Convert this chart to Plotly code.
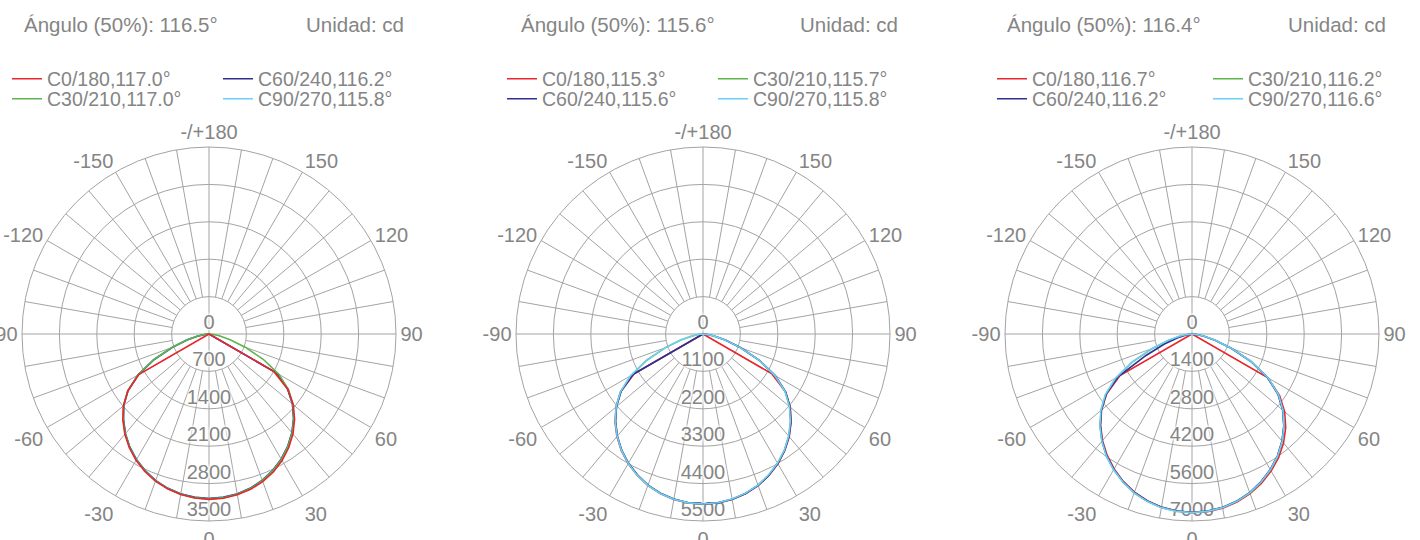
import plotly.graph_objects as go

# ---------------- data ----------------
ANGLES = [-90, -85, -80, -75, -70, -65, -60, -55, -50, -45, -40, -35, -30, -25, -20, -15, -10, -5,
          0, 5, 10, 15, 20, 25, 30, 35, 40, 45, 50, 55, 60, 65, 70, 75, 80, 85, 90]

SERIES_NAMES = ["C0/180", "C30/210", "C60/240", "C90/270"]
SERIES_COLORS = ["#e8262b", "#5db54b", "#2e3192", "#6ccff6"]

# chart 1
C1_TITLE = "Ángulo (50%): 116.5°"
C1_BEAM = ["117.0°", "117.0°", "116.2°", "115.8°"]
C1_TICKS = [0, 700, 1400, 2100, 2800, 3500]
C1_RED = [0, 0, 0, 0, 0, 0, 1520, 1850, 2090, 2280, 2450, 2600, 2730, 2840, 2930, 3000, 3050, 3080,
          3095, 3085, 3055, 3010, 2940, 2850, 2735, 2600, 2445, 2265, 2060, 1800, 1400, 0, 0, 0, 0, 0, 0]
C1_GREEN = [0, 65, 210, 430, 740, 1150, 1540, 1860, 2090, 2270, 2440, 2590, 2720, 2830, 2925, 2995, 3045, 3075,
            3085, 3075, 3045, 2995, 2920, 2825, 2710, 2575, 2420, 2245, 2050, 1820, 1510, 1120, 720, 410, 195, 60, 0]
C1_BLUE = [0, 60, 205, 420, 730, 1140, 1530, 1855, 2085, 2265, 2435, 2585, 2715, 2825, 2920, 2990, 3040, 3070,
           3080, 3070, 3040, 2990, 2915, 2820, 2705, 2570, 2415, 2240, 2040, 1800, 1470, 0, 0, 0, 0, 0, 0]
C1_CYAN = [0, 55, 200, 415, 725, 1130, 1520, 1845, 2080, 2260, 2430, 2580, 2710, 2820, 2915, 2985, 3035, 3065,
           3075, 3065, 3035, 2985, 2910, 2815, 2700, 2565, 2410, 2235, 2035, 1790, 1450, 0, 0, 0, 0, 0, 0]

# chart 2
C2_TITLE = "Ángulo (50%): 115.6°"
C2_BEAM = ["115.3°", "115.7°", "115.6°", "115.8°"]
C2_TICKS = [0, 1100, 2200, 3300, 4400, 5500]
C2_RED = [0, 0, 0, 0, 0, 0, 2330, 2960, 3340, 3660, 3940, 4190, 4400, 4580, 4740, 4860, 4940, 4990,
          5005, 4990, 4940, 4860, 4745, 4590, 4405, 4190, 3945, 3665, 3350, 2960, 2330, 0, 0, 0, 0, 0, 0]
C2_GREEN = [0, 100, 325, 675, 1175, 1825, 2450, 2950, 3325, 3640, 3925, 4175, 4390, 4575, 4735, 4850, 4935, 4985,
            5000, 4985, 4935, 4850, 4735, 4575, 4390, 4175, 3925, 3640, 3325, 2950, 2450, 1825, 1175, 675, 325, 100, 0]
C2_BLUE = [0, 0, 0, 0, 0, 0, 2380, 2940, 3320, 3635, 3920, 4170, 4385, 4570, 4730, 4845, 4930, 4980,
           4995, 4985, 4935, 4855, 4740, 4585, 4400, 4185, 3935, 3655, 3345, 2965, 2460, 1830, 1180, 680, 330, 100, 0]
C2_CYAN = [0, 105, 330, 685, 1190, 1845, 2470, 2965, 3335, 3650, 3930, 4180, 4395, 4580, 4740, 4855, 4935, 4985,
           5000, 4980, 4930, 4845, 4730, 4570, 4385, 4170, 3920, 3635, 3320, 2945, 2445, 1820, 1170, 670, 320, 95, 0]

# chart 3
C3_TITLE = "Ángulo (50%): 116.4°"
C3_BEAM = ["116.7°", "116.2°", "116.2°", "116.6°"]
C3_TICKS = [0, 1400, 2800, 4200, 5600, 7000]
C3_RED = [0, 0, 0, 0, 0, 0, 3120, 3900, 4420, 4840, 5210, 5540, 5830, 6090, 6300, 6460, 6580, 6650,
          6690, 6680, 6620, 6510, 6360, 6160, 5920, 5650, 5330, 4960, 4530, 4000, 3270, 0, 0, 0, 0, 0, 0]
C3_GREEN = [0, 135, 435, 900, 1570, 2440, 3275, 3940, 4440, 4865, 5245, 5580, 5865, 6110, 6325, 6480, 6595, 6660,
            6680, 6660, 6595, 6480, 6325, 6110, 5865, 5580, 5245, 4865, 4440, 3940, 3275, 2440, 1570, 900, 435, 135, 0]
C3_BLUE = [0, 60, 220, 550, 1100, 1900, 3200, 3920, 4430, 4855, 5235, 5570, 5855, 6100, 6315, 6470, 6585, 6650,
           6670, 6655, 6590, 6475, 6320, 6105, 5860, 5575, 5240, 4860, 4430, 3930, 3265, 2435, 1565, 895, 430, 130, 0]
C3_CYAN = [0, 140, 445, 915, 1590, 2470, 3300, 3960, 4455, 4875, 5250, 5585, 5870, 6115, 6330, 6485, 6600, 6665,
           6685, 6665, 6600, 6485, 6330, 6115, 5870, 5585, 5250, 4870, 4445, 3950, 3290, 2455, 1580, 905, 440, 138, 0]

UNIT_TEXT = "Unidad: cd"
ANG_TICKVALS = [0, 30, 60, 90, 120, 150, 180, 210, 240, 270, 300, 330]
ANG_TICKTEXT = ["0", "30", "60", "90", "120", "150", "-/+180", "-150", "-120", "-90", "-60", "-30"]
SPOKE_STEP = 10

# ---------------- style / layout ----------------
W, H = 1420, 540
FONT = "Helvetica Neue, Liberation Sans, Arial, sans-serif"
TXT = "#858585"
GRID = "#a3a3a3"

charts = [
    dict(title=C1_TITLE, beams=C1_BEAM, ticks=C1_TICKS,
         data=[C1_RED, C1_GREEN, C1_BLUE, C1_CYAN], draw_order=[3, 2, 1, 0],
         legend_pos={0: (0, 0), 2: (1, 0), 1: (0, 1), 3: (1, 1)},
         cx=209, title_x=22, unit_x=406, col_text_x=[47, 258]),
    dict(title=C2_TITLE, beams=C2_BEAM, ticks=C2_TICKS,
         data=[C2_RED, C2_GREEN, C2_BLUE, C2_CYAN], draw_order=[0, 1, 2, 3],
         legend_pos={0: (0, 0), 1: (1, 0), 2: (0, 1), 3: (1, 1)},
         cx=703, title_x=519, unit_x=900, col_text_x=[542, 753]),
    dict(title=C3_TITLE, beams=C3_BEAM, ticks=C3_TICKS,
         data=[C3_RED, C3_GREEN, C3_BLUE, C3_CYAN], draw_order=[0, 1, 2, 3],
         legend_pos={0: (0, 0), 1: (1, 0), 2: (0, 1), 3: (1, 1)},
         cx=1192, title_x=1005, unit_x=1388, col_text_x=[1032, 1248]),
]

CY = 334
RAD = 187
ROW_Y = [79, 99]
LEG_TEXT_OFFSET = 40

fig = go.Figure()
layout = dict(width=W, height=H, margin=dict(l=0, r=0, t=0, b=0, autoexpand=False),
              paper_bgcolor="white", plot_bgcolor="white",
              font=dict(family=FONT, color=TXT, size=20), annotations=[])

legend_count = 0
for i, ch in enumerate(charts):
    pk = "polar" if i == 0 else f"polar{i + 1}"
    ticks = ch["ticks"]
    rmax = ticks[-1]

    # angular spokes (grid): main axes through centre, others from first ring outwards
    sp_t, sp_r = [], []
    for a in range(0, 360, SPOKE_STEP):
        r0 = 0 if a % 90 == 0 else ticks[1]
        sp_t += [a, a, None]
        sp_r += [r0, rmax, None]
    fig.add_trace(go.Scatterpolar(r=sp_r, theta=sp_t, mode="lines", subplot=pk,
                                  line=dict(color=GRID, width=1), hoverinfo="skip",
                                  showlegend=False, connectgaps=False))

    # radial tick labels along theta = 0
    fig.add_trace(go.Scatterpolar(r=ticks, theta=[0] * len(ticks), mode="text", subplot=pk,
                                  text=[str(t) for t in ticks], textposition="top center",
                                  textfont=dict(size=20, color=TXT, family=FONT,
                                                shadow="0px 0px 3px white, 0px 0px 3px white, 0px 0px 4px white, 0px 0px 5px white"),
                                  hoverinfo="skip", showlegend=False))

    # data series, each with its own single-entry legend placed in a 2x2 grid
    for s in ch["draw_order"]:
        col, row = ch["legend_pos"][s]
        legend_count += 1
        lid = "legend" if legend_count == 1 else f"legend{legend_count}"
        layout[lid] = dict(orientation="v", x=(ch["col_text_x"][col] - LEG_TEXT_OFFSET) / W, xanchor="left",
                           y=1 - ROW_Y[row] / H, yanchor="middle",
                           bgcolor="rgba(0,0,0,0)", borderwidth=0,
                           font=dict(size=19.5, color=TXT, family=FONT),
                           itemclick=False, itemdoubleclick=False)
        fig.add_trace(go.Scatterpolar(r=ch["data"][s], theta=ANGLES, mode="lines", subplot=pk,
                                      name=f"{SERIES_NAMES[s]},{ch['beams'][s]}",
                                      line=dict(color=SERIES_COLORS[s], width=1.6),
                                      legend=lid))

    cx = ch["cx"]
    layout[pk] = dict(
        domain=dict(x=[(cx - RAD) / W, (cx + RAD) / W], y=[(H - (CY + RAD)) / H, (H - (CY - RAD)) / H]),
        bgcolor="white",
        radialaxis=dict(range=[0, rmax], tickmode="array", tickvals=ticks, showticklabels=False,
                        showline=False, ticks="", showgrid=True, gridcolor=GRID, gridwidth=1),
        angularaxis=dict(rotation=270, direction="counterclockwise", tickmode="array",
                         tickvals=ANG_TICKVALS, ticktext=ANG_TICKTEXT, showgrid=False,
                         showline=True, linecolor=GRID, linewidth=1, ticks="",
                         tickfont=dict(size=20, color=TXT, family=FONT)),
    )

    layout["annotations"] += [
        dict(text=ch["title"], x=ch["title_x"] / W, y=1 - 25 / H, xref="paper", yref="paper",
             xanchor="left", yanchor="middle", showarrow=False, font=dict(size=20.5, color=TXT, family=FONT)),
        dict(text=UNIT_TEXT, x=ch["unit_x"] / W, y=1 - 25 / H, xref="paper", yref="paper",
             xanchor="right", yanchor="middle", showarrow=False, font=dict(size=20.5, color=TXT, family=FONT)),
    ]

fig.update_layout(**layout)
fig.write_html(
    "out.html",
    config={"displayModeBar": False, "responsive": False},
    post_script=("document.documentElement.style.margin='0';document.documentElement.style.overflow='hidden';"
                 "document.body.style.margin='0';document.body.style.padding='0';"
                 "document.body.style.overflow='hidden';"),
)
